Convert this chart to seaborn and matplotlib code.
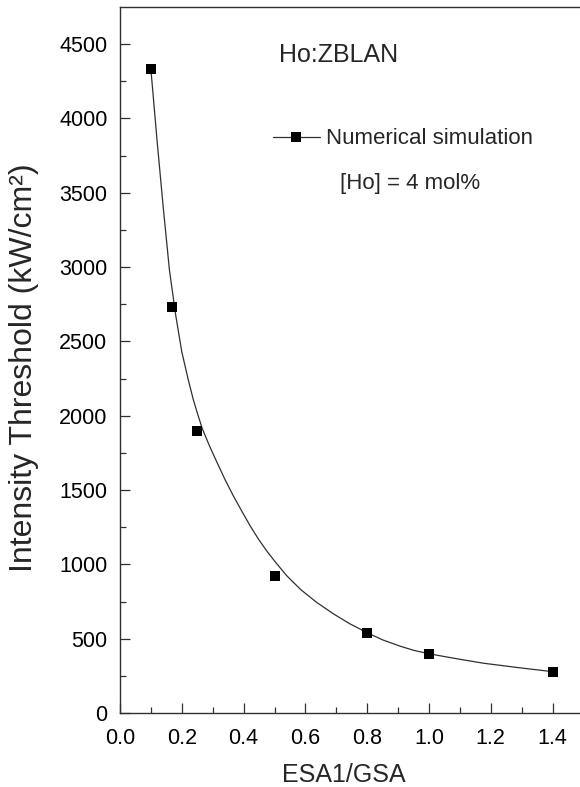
import matplotlib
matplotlib.use("Agg")
import matplotlib.pyplot as plt
from matplotlib.lines import Line2D
import numpy as np
import pandas as pd
import seaborn as sns

# Simulated threshold values
ratio = [0.10, 0.167, 0.25, 0.50, 0.80, 1.00, 1.40]
threshold = [4330, 2730, 1900, 925, 535, 395, 278]

# Smooth trend line through the simulation results
trend_ratio = [0.100, 0.120, 0.140, 0.160, 0.180, 0.200, 0.220, 0.237, 0.250,
               0.266, 0.290, 0.313, 0.340, 0.367, 0.395, 0.421, 0.448, 0.475,
               0.505, 0.539, 0.585, 0.636, 0.690, 0.744, 0.800, 0.850, 0.906,
               0.950, 1.001, 1.090, 1.176, 1.290, 1.400]
trend_value = [4330, 3850, 3400, 2980, 2680, 2430, 2250, 2110, 2020,
               1915, 1795, 1690, 1570, 1460, 1355, 1260, 1170, 1090,
               1010, 925, 830, 745, 668, 600, 540, 492, 450,
               422, 398, 365, 335, 305, 278]

x_ticks = [0.0, 0.2, 0.4, 0.6, 0.8, 1.0, 1.2, 1.4]
y_ticks = [0, 500, 1000, 1500, 2000, 2500, 3000, 3500, 4000, 4500]

sns.set_theme(style="ticks")
plt.rcParams["font.family"] = ["Liberation Sans", "DejaVu Sans"]

W, H = 580, 787
fig = plt.figure(figsize=(W / 100, H / 100), dpi=100)

def fx(px):
    return px / W

def fy(py):
    return 1 - py / H

left, right, top, bottom = 120, 583.5, 7, 713
ax = fig.add_axes([fx(left), fy(bottom), (right - left) / W, (bottom - top) / H])

pts = pd.DataFrame({"ratio": ratio, "threshold": threshold})
trend = pd.DataFrame({"ratio": trend_ratio, "value": trend_value})

sns.lineplot(data=trend, x="ratio", y="value", ax=ax, color="#303030",
             linewidth=0.9, sort=False, estimator=None)
sns.scatterplot(data=pts, x="ratio", y="threshold", ax=ax, marker="s",
                s=52, color="black", edgecolor="black", linewidth=0, zorder=3)

ax.set_xlim(0, 1.5)
ax.set_ylim(0, 4750)
ax.set_xticks(x_ticks)
ax.set_xticklabels([f"{v:.1f}" for v in x_ticks])
ax.set_yticks(y_ticks)
ax.set_xticks(np.arange(0.1, 1.5, 0.2), minor=True)
ax.set_yticks(np.arange(250, 4750, 500), minor=True)

ax.tick_params(axis="both", which="major", direction="in", length=7.5,
               width=0.9, color="#303030", labelsize=15.5, labelcolor="black")
ax.tick_params(axis="both", which="minor", direction="in", length=4,
               width=0.9, color="#303030")
ax.tick_params(axis="x", which="major", pad=10.5)
ax.tick_params(axis="y", which="major", pad=9)
ax.tick_params(top=False, right=False, which="both")

for side in ["left", "bottom", "top"]:
    ax.spines[side].set_visible(True)
    ax.spines[side].set_color("#303030")
    ax.spines[side].set_linewidth(1.0)
ax.spines["right"].set_visible(False)

ax.set_xlabel("ESA1/GSA", fontsize=18)
ax.set_ylabel("Intensity Threshold (kW/cm²)", fontsize=23)
ax.xaxis.set_label_coords((344 - left) / (right - left), (bottom - 782) / (bottom - top))
ax.xaxis.label.set_va("baseline")
ax.yaxis.set_label_coords((24 - left) / (right - left), (bottom - 368) / (bottom - top))
ax.yaxis.label.set_va("center")

fig.text(fx(279), fy(55), "Ho:ZBLAN", fontsize=18, ha="left", va="center")
fig.text(fx(340), fy(184), "[Ho] = 4 mol%", fontsize=16, ha="left", va="center")

handle = Line2D([], [], color="#303030", linewidth=0.9, marker="s",
                markersize=7.2, markerfacecolor="black", markeredgewidth=0)
ax.legend([handle], ["Numerical simulation"], loc="center left",
          bbox_to_anchor=(fx(273), fy(139)), bbox_transform=fig.transFigure,
          frameon=False, fontsize=16, handlelength=2.1, handletextpad=0.3,
          borderpad=0, borderaxespad=0)

fig.savefig("out.png", dpi=100, facecolor="white")
